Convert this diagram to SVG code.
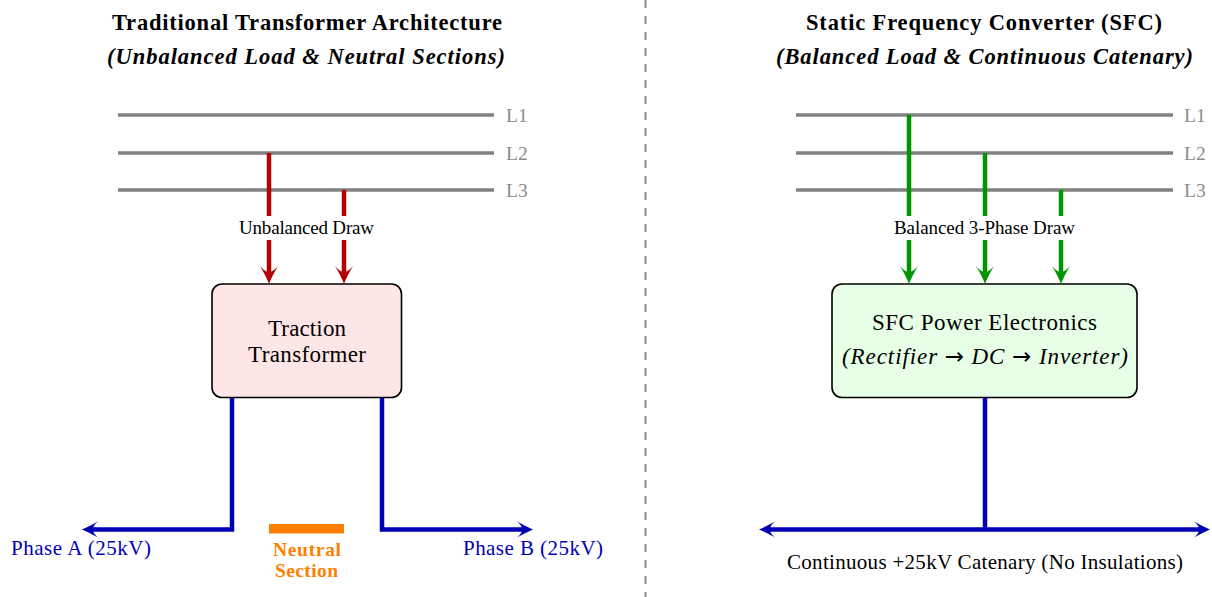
<svg xmlns="http://www.w3.org/2000/svg" width="1212" height="597" viewBox="0 0 1212 597">
<style>
text{font-family:"Liberation Serif","Times New Roman",serif;}
.title{font-size:22.5px;font-weight:bold;text-anchor:middle;fill:#000;}
.sub{font-size:22.5px;font-weight:bold;font-style:italic;text-anchor:middle;fill:#000;}
.bus{stroke:#808080;stroke-width:3.5;fill:none;}
.lbl{font-size:19.5px;fill:#8c8c8c;}
.draw{font-size:19px;text-anchor:middle;fill:#000;}
.box{stroke:#000;stroke-width:1.6;}
.boxt{font-size:23px;text-anchor:middle;fill:#000;}
.red{stroke:#b40000;stroke-width:4.5;fill:none;}
.grn{stroke:#009600;stroke-width:4.5;fill:none;}
.blu{stroke:#0000b4;stroke-width:4.5;fill:none;stroke-linejoin:miter;}
.bt{font-size:21px;fill:#0000b4;text-anchor:middle;}
.arw{font-family:"DejaVu Sans",sans-serif;font-style:normal;}
</style>
<defs>
<marker id="ar" markerUnits="userSpaceOnUse" orient="auto" refX="-10" refY="0" overflow="visible" markerWidth="20" markerHeight="20"><path d="M0,0 Q-8,-3 -18,-9 Q-12,-4 -12,0 Q-12,4 -18,9 Q-8,3 0,0 Z" fill="#b40000"/></marker>
<marker id="ag" markerUnits="userSpaceOnUse" orient="auto" refX="-10" refY="0" overflow="visible" markerWidth="20" markerHeight="20"><path d="M0,0 Q-8,-3 -18,-9 Q-12,-4 -12,0 Q-12,4 -18,9 Q-8,3 0,0 Z" fill="#009600"/></marker>
<marker id="ab" markerUnits="userSpaceOnUse" orient="auto-start-reverse" refX="-8" refY="0" overflow="visible" markerWidth="20" markerHeight="20"><path d="M0,0 Q-7,-3 -16,-8 Q-11,-4 -11,0 Q-11,4 -16,8 Q-7,3 0,0 Z" fill="#0000b4"/></marker>
</defs>
<rect width="1212" height="597" fill="#fff"/>

<line x1="645.5" y1="0" x2="645.5" y2="597" stroke="#888" stroke-width="2" stroke-dasharray="8 8"/>

<g id="titles">
<text class="title" x="307" y="30" textLength="390" lengthAdjust="spacing">Traditional Transformer Architecture</text>
<text class="sub" x="306" y="64" textLength="398" lengthAdjust="spacing">(Unbalanced Load &amp; Neutral Sections)</text>
<text class="title" x="984" y="30" textLength="356" lengthAdjust="spacing">Static Frequency Converter (SFC)</text>
<text class="sub" x="984.5" y="64" textLength="417" lengthAdjust="spacing">(Balanced Load &amp; Continuous Catenary)</text>
</g>

<g id="grid-left">
<line class="bus" x1="118" y1="115" x2="494" y2="115"/>
<line class="bus" x1="118" y1="153" x2="494" y2="153"/>
<line class="bus" x1="118" y1="190" x2="494" y2="190"/>
<text class="lbl" x="506" y="122">L1</text>
<text class="lbl" x="506" y="160">L2</text>
<text class="lbl" x="506" y="197">L3</text>
</g>

<g id="grid-right">
<line class="bus" x1="796" y1="115" x2="1173" y2="115"/>
<line class="bus" x1="796" y1="153" x2="1173" y2="153"/>
<line class="bus" x1="796" y1="190" x2="1173" y2="190"/>
<text class="lbl" x="1184" y="122">L1</text>
<text class="lbl" x="1184" y="160">L2</text>
<text class="lbl" x="1184" y="197">L3</text>
</g>

<g id="transformer">
<rect class="box" x="212" y="284" width="189.5" height="113.5" rx="10" fill="#ffe6e6"/>
<text class="boxt" x="307" y="336" textLength="78" lengthAdjust="spacing">Traction</text>
<text class="boxt" x="307" y="362" textLength="118" lengthAdjust="spacing">Transformer</text>
</g>

<g id="sfc">
<rect class="box" x="832" y="284" width="305" height="113.5" rx="10" fill="#e6ffe6"/>
<text class="boxt" x="984.5" y="330" textLength="225" lengthAdjust="spacing">SFC Power Electronics</text>
<text class="boxt" x="985" y="364" font-style="italic" textLength="286" lengthAdjust="spacing">(Rectifier <tspan class="arw">→</tspan> DC <tspan class="arw">→</tspan> Inverter)</text>
</g>

<g id="neutral">
<rect x="269" y="524" width="75" height="9.5" fill="#ff8000"/>
<text x="307" y="556" font-size="19.5" font-weight="bold" fill="#ff8000" text-anchor="middle" textLength="68" lengthAdjust="spacing">Neutral</text>
<text x="306.5" y="577" font-size="19.5" font-weight="bold" fill="#ff8000" text-anchor="middle" textLength="63" lengthAdjust="spacing">Section</text>
</g>

<g id="connectors">
<line class="red" x1="269" y1="153" x2="269" y2="274" marker-end="url(#ar)"/>
<line class="red" x1="344" y1="190" x2="344" y2="274" marker-end="url(#ar)"/>
<rect x="232" y="216" width="148" height="24" fill="#fff"/>
<text class="draw" x="306.5" y="234" textLength="135" lengthAdjust="spacing">Unbalanced Draw</text>

<line class="grn" x1="909" y1="115" x2="909" y2="274" marker-end="url(#ag)"/>
<line class="grn" x1="985" y1="153" x2="985" y2="274" marker-end="url(#ag)"/>
<line class="grn" x1="1061" y1="190" x2="1061" y2="274" marker-end="url(#ag)"/>
<rect x="888" y="216" width="194" height="24" fill="#fff"/>
<text class="draw" x="984.5" y="234" textLength="181" lengthAdjust="spacing">Balanced 3-Phase Draw</text>

<path class="blu" d="M232,398 V529.5 H90" marker-end="url(#ab)"/>
<path class="blu" d="M382,398 V529.5 H525" marker-end="url(#ab)"/>
<path class="blu" d="M985,398 V529.5"/>
<line class="blu" x1="767" y1="529.5" x2="1202" y2="529.5" marker-start="url(#ab)" marker-end="url(#ab)"/>

<text class="bt" x="81" y="555" textLength="140" lengthAdjust="spacing">Phase A (25kV)</text>
<text class="bt" x="533" y="555" textLength="140" lengthAdjust="spacing">Phase B (25kV)</text>
<text x="985" y="569" font-size="21" text-anchor="middle" fill="#000" textLength="396" lengthAdjust="spacing">Continuous +25kV Catenary (No Insulations)</text>
</g>
</svg>
